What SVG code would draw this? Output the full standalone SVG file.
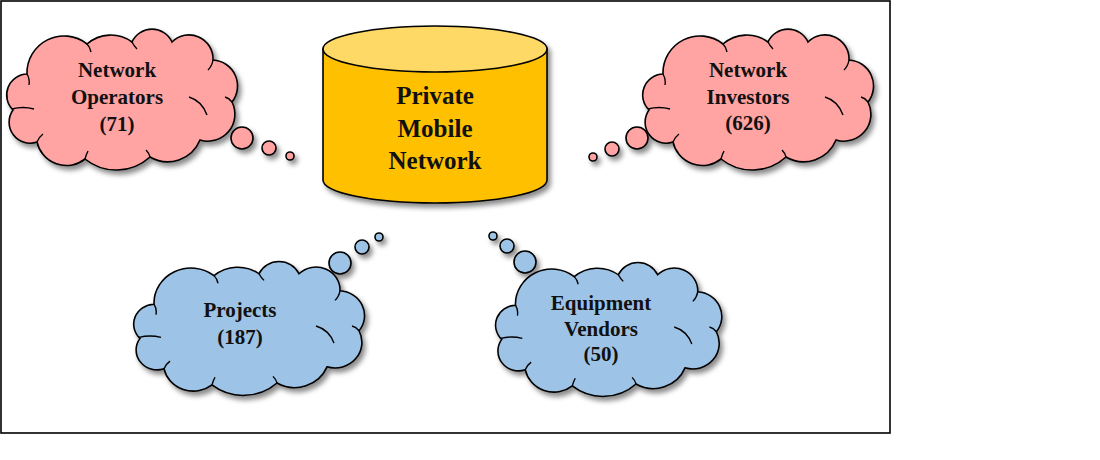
<svg xmlns="http://www.w3.org/2000/svg" width="1100" height="460" viewBox="0 0 1100 460">
  <style>
    .lbl { font-family: "Liberation Serif", "Times New Roman", serif; font-weight: bold; fill: #111; text-anchor: middle; }
    .cl { font-size: 21px; }
    .cy { font-size: 25px; }
    .ol { stroke: #000; stroke-width: 1.6; }
    .pink { fill: #FFA3A3; }
    .blue { fill: #9DC3E6; }
    .inner { fill: none; stroke: #000; stroke-width: 1.4; }
  </style>
  <defs>
    <filter id="sh" x="-20%" y="-20%" width="140%" height="140%">
      <feDropShadow dx="3" dy="4" stdDeviation="2.5" flood-color="#000" flood-opacity="0.45"/>
    </filter>
    <path id="cloud" d="M27,77 A21,21 0 0 0 13,113 A21,21 0 0 0 37,145 A30,30 0 0 0 85,162 A50,50 0 0 0 150,160 A35,35 0 0 0 200,143 A27,27 0 0 0 232,105 A26,26 0 0 0 213,63 A24,24 0 0 0 172,45 A22,22 0 0 0 132,45 A36,36 0 0 0 87,47 A37,37 0 0 0 27,77 Z"/>
    <path id="cloudIn" d="M27,77 q3,5 2,11 M12,112 q11,-3 22,0 M37,145 q2,-5 6,-8 M85,162 q1,-4 3,-8 M150,160 q-1,-4 -4,-7 M189,100 q13,4 18,18 M232,105 q-3,-4 -7,-5 M213,63 q-1,6 -5,10 M132,45 q2,4 5,7 M87,47 q3,3 4,8"/>
  </defs>
  <rect x="1" y="1" width="889" height="432" fill="#fff" stroke="#000" stroke-width="1.6"/>

  <g id="network-operators">
    <g filter="url(#sh)">
      <use href="#cloud" x="0" y="-3" class="pink ol"/>
      <circle cx="242" cy="138" r="11" class="pink ol"/>
      <circle cx="269" cy="148" r="7" class="pink ol"/>
      <circle cx="290" cy="156" r="4" class="pink ol"/>
    </g>
    <use href="#cloudIn" x="0" y="-3" class="inner"/>
    <text class="lbl cl" x="117" y="77">Network</text>
    <text class="lbl cl" x="117" y="104">Operators</text>
    <text class="lbl cl" x="117" y="131">(71)</text>
  </g>

  <g id="network-investors">
    <g filter="url(#sh)">
      <use href="#cloud" x="636" y="-3" class="pink ol"/>
      <circle cx="637" cy="138" r="11" class="pink ol"/>
      <circle cx="612" cy="149" r="7" class="pink ol"/>
      <circle cx="593" cy="157" r="4" class="pink ol"/>
    </g>
    <use href="#cloudIn" x="636" y="-3" class="inner"/>
    <text class="lbl cl" x="748" y="77">Network</text>
    <text class="lbl cl" x="748" y="104">Investors</text>
    <text class="lbl cl" x="748" y="130">(626)</text>
  </g>

  <g id="private-mobile-network">
    <g filter="url(#sh)">
      <path d="M323,49 L323,180 A112,23 0 0 0 547,180 L547,49 Z" fill="#FFC000" class="ol"/>
      <ellipse cx="435" cy="49" rx="112" ry="23" fill="#FFD966" class="ol"/>
    </g>
    <text class="lbl cy" x="435" y="104">Private</text>
    <text class="lbl cy" x="435" y="137">Mobile</text>
    <text class="lbl cy" x="435" y="169">Network</text>
  </g>

  <g id="projects">
    <g filter="url(#sh)">
      <use href="#cloud" transform="translate(127,231) scale(1,0.95)" class="blue ol"/>
      <circle cx="340" cy="263" r="11" class="blue ol"/>
      <circle cx="362" cy="247" r="7" class="blue ol"/>
      <circle cx="379" cy="237" r="4" class="blue ol"/>
    </g>
    <use href="#cloudIn" transform="translate(127,231) scale(1,0.95)" class="inner"/>
    <text class="lbl cl" x="240" y="317">Projects</text>
    <text class="lbl cl" x="240" y="344">(187)</text>
  </g>

  <g id="equipment-vendors">
    <g filter="url(#sh)">
      <use href="#cloud" transform="translate(489,232) scale(0.98,0.95)" class="blue ol"/>
      <circle cx="525" cy="262" r="11" class="blue ol"/>
      <circle cx="507" cy="246" r="7" class="blue ol"/>
      <circle cx="493" cy="236" r="4" class="blue ol"/>
    </g>
    <use href="#cloudIn" transform="translate(489,232) scale(0.98,0.95)" class="inner"/>
    <text class="lbl cl" x="601" y="310">Equipment</text>
    <text class="lbl cl" x="601" y="336">Vendors</text>
    <text class="lbl cl" x="601" y="361">(50)</text>
  </g>

  <g id="connectors"></g>
</svg>
